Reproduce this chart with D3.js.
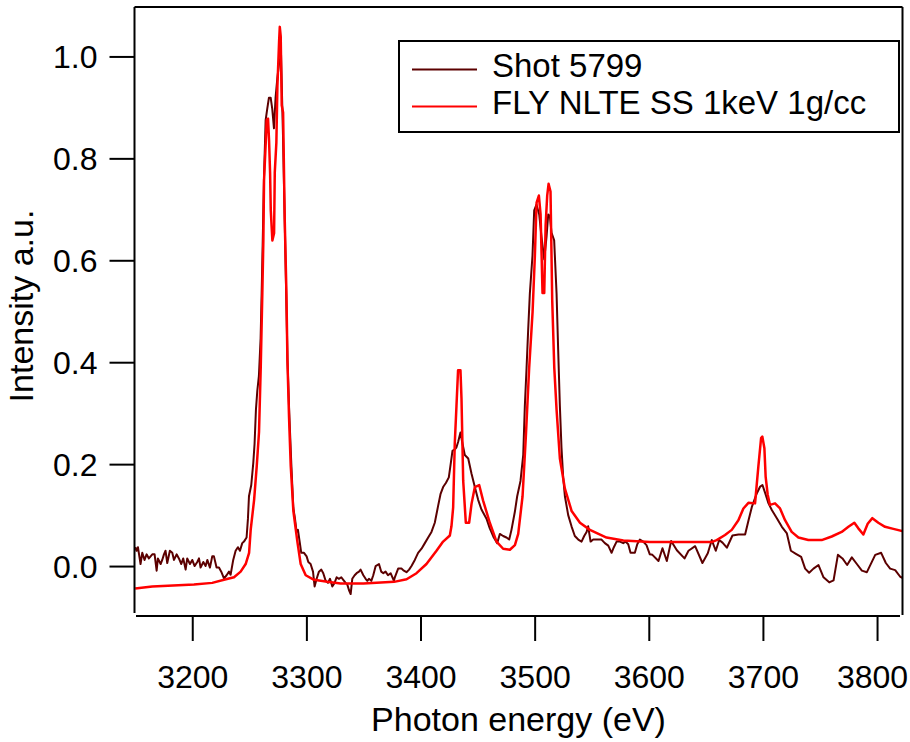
<!DOCTYPE html>
<html>
<head>
<meta charset="utf-8">
<script src="https://cdn.jsdelivr.net/npm/d3@7"></script>
<style>
  body { margin: 0; background: #fff; }
  svg { font-family: "Liberation Sans", Arial, sans-serif; }
  .axis-label { font-size: 34px; fill: #000; }
  .legend-label { font-size: 33px; fill: #000; }
</style>
</head>
<body>
<div id="chart"></div>
<script>
// Shot 5799 (measured spectrum)
const shotEnergy = [
  3150, 3151.2, 3152.4, 3154.7, 3156.2, 3158.2, 3160.0, 3162.0, 3165.0, 3167.0,
  3168.8, 3169.9, 3172.3, 3173.7, 3175.2, 3176.6, 3178.1, 3180.4, 3182.5, 3184.0,
  3186.3, 3188.3, 3190.4, 3192.1, 3194.2, 3195.6, 3198.0, 3200.0, 3202.1, 3204.4,
  3205.9, 3207.3, 3209.7, 3211.7, 3213.2, 3215.5, 3217.5, 3219.0, 3221.3, 3223.4,
  3225.4, 3227.8, 3230.1, 3232.2, 3233.6, 3235.9, 3238.0, 3240.0, 3241.8, 3243.8,
  3245.3, 3247.6, 3248.8, 3249.7, 3251.7, 3253.5, 3254.6, 3255.8, 3257.0, 3258.4,
  3259.9, 3260.8, 3261.7, 3262.8, 3264.3, 3265.7, 3267.2, 3268.7, 3270.1, 3271.6,
  3273.0, 3274.5, 3276.0, 3277.8, 3279.5, 3281.0, 3282.3, 3283.5, 3285.0, 3286.8,
  3288.5, 3290.0, 3291.4, 3292.6, 3294.1, 3295.5, 3297.9, 3300.2, 3301.7, 3303.7,
  3305.8, 3307.2, 3309.0, 3311.0, 3313.1, 3314.8, 3316.9, 3318.9, 3320.7, 3322.7,
  3324.7, 3326.5, 3328.5, 3330.6, 3332.3, 3334.4, 3335.8, 3337.3, 3338.8, 3340.2,
  3342.3, 3344.0, 3346.1, 3347.5, 3349.9, 3351.9, 3353.4, 3354.8, 3356.9, 3358.6,
  3360.7, 3363.6, 3365.6, 3367.4, 3369.4, 3371.5, 3373.8, 3376.7, 3377.5, 3380.4,
  3383.3, 3385.4, 3387.7, 3390.0, 3392.1, 3395.0, 3397.9, 3400.9, 3403.8, 3406.7,
  3409.6, 3412.5, 3415.5, 3417.5, 3419.8, 3422.2, 3424.8, 3426.6, 3428.0, 3430.1,
  3431.5, 3433.0, 3435.0, 3436.8, 3438.8, 3441.8, 3444.7, 3447.6, 3450.5, 3453.4,
  3457.8, 3460.7, 3464.2, 3467.2, 3469.5, 3472.4, 3475.3, 3477.7, 3479.7, 3482.7,
  3484.7, 3487.6, 3490.0, 3491.4, 3492.9, 3494.3, 3495.8, 3498.1, 3499.6, 3501.6,
  3504.0, 3506.0, 3508.4, 3510.4, 3511.9, 3513.3, 3514.8, 3517.1, 3519.2, 3520.6,
  3522.1, 3523.5, 3525.0, 3526.5, 3529.4, 3532.3, 3535.2, 3538.2, 3541.1, 3543.4,
  3545.5, 3546.9, 3549.0, 3551.3, 3554.2, 3558.6, 3561.5, 3564.5, 3567.4, 3569.4,
  3571.8, 3574.7, 3577.6, 3579.6, 3582.0, 3584.0, 3587.8, 3589.9, 3592.2, 3595.1,
  3598.0, 3600.9, 3603.2, 3608.5, 3612.0, 3615.8, 3619.6, 3624.6, 3631.3, 3634.8,
  3640.6, 3647.0, 3651.7, 3655.2, 3658.7, 3661.7, 3664.6, 3668.4, 3673.3, 3678.6,
  3684.4, 3687.4, 3690.3, 3694.7, 3697.6, 3699.6, 3702.0, 3704.9, 3707.8, 3712.2,
  3716.6, 3721.0, 3724.5, 3728.9, 3733.5, 3737.0, 3740.5, 3744.3, 3748.7, 3753.1,
  3758.1, 3761.9, 3765.7, 3769.7, 3773.8, 3777.9, 3782.3, 3786.7, 3791.1, 3798.4,
  3803.6, 3807.7, 3811.5, 3815.9, 3820.3, 3823.0
];
const shotIntensity = [
  0.037, 0.030, 0.037, 0.004, 0.026, 0.012, 0.023, 0.015, 0.023, 0.023,
  -0.009, 0.015, 0.004, 0.012, 0.023, 0.030, 0.006, 0.030, 0.026, 0.012,
  0.023, 0.015, 0.004, 0.015, -0.007, 0.015, 0.004, 0.012, 0.000, 0.008,
  0.015, -0.003, 0.008, 0.000, 0.012, -0.003, 0.019, 0.019, -0.003, -0.003,
  -0.011, -0.024, -0.018, -0.011, -0.017, 0.012, 0.030, 0.037, 0.030, 0.045,
  0.048, 0.056, 0.093, 0.137, 0.159, 0.203, 0.240, 0.307, 0.344, 0.373,
  0.447, 0.535, 0.631, 0.757, 0.875, 0.897, 0.919, 0.919, 0.897, 0.859,
  0.919, 0.956, 0.985, 1.003, 0.845, 0.680, 0.535, 0.400, 0.300, 0.200,
  0.115, 0.093, 0.067, 0.071, 0.048, 0.026, 0.026, 0.019, 0.008, 0.004,
  -0.011, -0.040, -0.025, -0.011, -0.007, -0.014, -0.029, -0.033, -0.025, -0.040,
  -0.033, -0.022, -0.025, -0.022, -0.027, -0.033, -0.036, -0.047, -0.055, -0.025,
  -0.018, -0.014, -0.011, -0.007, -0.018, -0.025, -0.029, -0.025, -0.029, -0.018,
  0.000, 0.004, -0.011, -0.014, -0.011, -0.018, -0.014, -0.029, -0.022, -0.005,
  -0.005, -0.009, -0.012, -0.007, 0.000, 0.012, 0.026, 0.034, 0.045, 0.056,
  0.067, 0.085, 0.119, 0.141, 0.155, 0.163, 0.174, 0.203, 0.226, 0.229,
  0.233, 0.244, 0.262, 0.240, 0.218, 0.211, 0.181, 0.155, 0.130, 0.111,
  0.093, 0.074, 0.056, 0.045, 0.063, 0.059, 0.056, 0.052, 0.071, 0.107,
  0.137, 0.167, 0.218, 0.314, 0.388, 0.462, 0.535, 0.609, 0.698, 0.709,
  0.690, 0.646, 0.602, 0.646, 0.690, 0.687, 0.654, 0.639, 0.535, 0.425,
  0.314, 0.233, 0.174, 0.137, 0.100, 0.078, 0.059, 0.052, 0.048, 0.059,
  0.067, 0.078, 0.048, 0.052, 0.052, 0.052, 0.045, 0.040, 0.026, 0.037,
  0.048, 0.048, 0.045, 0.048, 0.043, 0.026, 0.026, 0.043, 0.052, 0.048,
  0.041, 0.023, 0.022, 0.010, 0.035, 0.010, 0.049, 0.031, 0.015, 0.030,
  0.039, 0.006, 0.025, 0.051, 0.030, 0.051, 0.046, 0.036, 0.060, 0.062,
  0.062, 0.090, 0.116, 0.143, 0.156, 0.159, 0.143, 0.123, 0.110, 0.094,
  0.077, 0.064, 0.030, 0.024, 0.018, -0.005, -0.013, -0.005, 0.002, -0.022,
  -0.032, -0.028, 0.022, 0.015, 0.002, 0.017, 0.004, -0.009, -0.012, 0.022,
  0.026, 0.006, -0.005, -0.008, -0.021, -0.024
];

// FLY NLTE SS 1keV 1g/cc (simulated spectrum)
const flyEnergy = [
  3150, 3165, 3201.5, 3217.5, 3227.8, 3236.6, 3242.4, 3246.8, 3249.8, 3251.2,
  3254.2, 3256.5, 3258.5, 3260.0, 3261.4, 3262.3, 3262.9, 3264.4, 3265.2, 3266.4,
  3267.3, 3268.2, 3268.8, 3270.2, 3271.7, 3272.3, 3273.7, 3274.6, 3276.1, 3276.7,
  3277.5, 3278.4, 3279.6, 3281.0, 3282.5, 3283.4, 3284.8, 3286.3, 3288.6, 3292.1,
  3295.0, 3299.4, 3306.7, 3318.4, 3330.0, 3350.0, 3376.8, 3387.8, 3396.5, 3405.2,
  3414.0, 3419.8, 3425.7, 3427.1, 3428.6, 3430.0, 3431.5, 3432.9, 3435.0, 3435.9,
  3437.4, 3439.7, 3442.6, 3444.7, 3447.6, 3451.4, 3454.9, 3460.7, 3466.6, 3472.4,
  3478.3, 3482.7, 3485.6, 3489.4, 3492.3, 3495.2, 3498.2, 3500.2, 3501.7, 3503.7,
  3505.2, 3506.9, 3508.4, 3509.6, 3511.0, 3512.2, 3513.9, 3515.4, 3517.2, 3519.2,
  3522.1, 3526.5, 3532.4, 3539.7, 3548.4, 3563.0, 3577.7, 3601.0, 3655.1, 3659.5,
  3666.8, 3672.7, 3678.5, 3682.9, 3687.3, 3693.1, 3696.0, 3698.4, 3699.5, 3701.3,
  3702.4, 3704.2, 3706.2, 3710.6, 3715.0, 3719.4, 3725.2, 3731.1, 3739.8, 3751.5,
  3760.3, 3769.0, 3774.9, 3780.1, 3783.6, 3788.0, 3791.8, 3795.9, 3801.1, 3807.0,
  3814.3, 3823.0
];
const flyIntensity = [
  -0.044, -0.040, -0.036, -0.033, -0.027, -0.022, -0.011, 0.004, 0.026, 0.071,
  0.130, 0.196, 0.263, 0.389, 0.536, 0.639, 0.757, 0.831, 0.875, 0.878,
  0.835, 0.772, 0.698, 0.639, 0.653, 0.772, 0.831, 0.941, 1.030, 1.058,
  1.040, 0.904, 0.890, 0.683, 0.536, 0.403, 0.292, 0.196, 0.108, 0.048,
  0.004, -0.018, -0.027, -0.031, -0.034, -0.034, -0.031, -0.026, -0.014, 0.004,
  0.030, 0.048, 0.060, 0.078, 0.115, 0.240, 0.314, 0.384, 0.384, 0.329,
  0.167, 0.085, 0.085, 0.122, 0.155, 0.159, 0.128, 0.085, 0.048, 0.034,
  0.032, 0.041, 0.063, 0.137, 0.255, 0.389, 0.499, 0.609, 0.713, 0.727,
  0.690, 0.536, 0.536, 0.668, 0.727, 0.750, 0.735, 0.521, 0.389, 0.307,
  0.211, 0.152, 0.108, 0.085, 0.071, 0.056, 0.050, 0.047, 0.047, 0.051,
  0.061, 0.071, 0.090, 0.113, 0.124, 0.123, 0.195, 0.251, 0.254, 0.231,
  0.175, 0.140, 0.120, 0.123, 0.113, 0.090, 0.067, 0.056, 0.051, 0.051,
  0.058, 0.067, 0.077, 0.085, 0.074, 0.062, 0.083, 0.094, 0.085, 0.077,
  0.073, 0.068
];

const xTicks = [3200, 3300, 3400, 3500, 3600, 3700, 3800];
const yTicks = [0.0, 0.2, 0.4, 0.6, 0.8, 1.0];
const seriesNames = ["Shot 5799", "FLY NLTE SS 1keV 1g/cc"];
const seriesColors = ["#5c0000", "#ff0000"];

const width = 910, height = 742;
const plot = { left: 134.5, right: 902.5, top: 7, bottom: 616 };

const svg = d3.select("#chart").append("svg")
  .attr("width", width)
  .attr("height", height);

const x = d3.scaleLinear().domain([3149.4, 3822.3]).range([plot.left, plot.right]);
const y = d3.scaleLinear().domain([-0.098, 1.097]).range([plot.bottom, plot.top]);

svg.append("clipPath").attr("id", "plot-clip")
  .append("rect")
  .attr("x", plot.left).attr("y", plot.top)
  .attr("width", plot.right - plot.left)
  .attr("height", plot.bottom - plot.top);

// data lines (measured first, simulation drawn on top)
const line = d3.line().x(d => x(d[0])).y(d => y(d[1]));
const shotData = shotEnergy.map((e, i) => [e, shotIntensity[i]]);
const flyData = flyEnergy.map((e, i) => [e, flyIntensity[i]]);

const lines = svg.append("g").attr("clip-path", "url(#plot-clip)");
lines.append("path").datum(shotData)
  .attr("fill", "none").attr("stroke", seriesColors[0])
  .attr("stroke-width", 2).attr("stroke-linejoin", "round")
  .attr("d", line);
lines.append("path").datum(flyData)
  .attr("fill", "none").attr("stroke", seriesColors[1])
  .attr("stroke-width", 2.5).attr("stroke-linejoin", "round")
  .attr("d", line);

// frame: left/bottom axes plus mirror lines on top/right
const frame = svg.append("g").attr("stroke", "#000").attr("stroke-width", 2);
frame.append("line").attr("x1", plot.left).attr("x2", plot.left).attr("y1", plot.top).attr("y2", plot.bottom - 3);
frame.append("line").attr("x1", plot.left + 1.5).attr("x2", plot.right - 2.5).attr("y1", plot.bottom).attr("y2", plot.bottom);
frame.append("line").attr("x1", plot.right).attr("x2", plot.right).attr("y1", plot.top).attr("y2", plot.bottom - 1);
frame.append("line").attr("x1", plot.left).attr("x2", plot.right).attr("y1", plot.top).attr("y2", plot.top);

// axes
const xAxis = svg.append("g")
  .attr("transform", `translate(0,${plot.bottom})`)
  .call(d3.axisBottom(x).tickValues(xTicks).tickSize(25).tickPadding(47).tickFormat(d3.format("d")));
const yAxis = svg.append("g")
  .attr("transform", `translate(${plot.left},0)`)
  .call(d3.axisLeft(y).tickValues(yTicks).tickSize(25).tickPadding(12).tickFormat(d3.format(".1f")));

[xAxis, yAxis].forEach(ax => {
  ax.select(".domain").remove();
  ax.selectAll(".tick line").attr("stroke", "#000").attr("stroke-width", 2);
  ax.selectAll(".tick text")
    .attr("font-family", "Liberation Sans, Arial, sans-serif")
    .attr("font-size", 32).attr("fill", "#000");
});
xAxis.selectAll(".tick text").attr("dy", 0);
yAxis.selectAll(".tick text").attr("dy", "0.36em");
// last label is pulled in so it stays inside the picture
xAxis.selectAll(".tick text").filter(d => d === 3800).attr("dx", -5);

// axis titles
svg.append("text")
  .attr("class", "axis-label")
  .attr("text-anchor", "middle")
  .attr("x", (plot.left + plot.right) / 2)
  .attr("y", 731)
  .text("Photon energy (eV)");

svg.append("text")
  .attr("class", "axis-label")
  .attr("text-anchor", "middle")
  .attr("transform", "rotate(-90)")
  .attr("x", -306)
  .attr("y", 33)
  .text("Intensity a.u.");

// legend
const legend = svg.append("g");
legend.append("rect")
  .attr("x", 399).attr("y", 41)
  .attr("width", 500).attr("height", 91)
  .attr("fill", "#fff").attr("stroke", "#000").attr("stroke-width", 2);

seriesNames.forEach((name, i) => {
  const rowY = 69.5 + i * 37;
  legend.append("line")
    .attr("x1", 412).attr("x2", 477)
    .attr("y1", rowY).attr("y2", rowY)
    .attr("stroke", seriesColors[i]).attr("stroke-width", 2);
  legend.append("text")
    .attr("class", "legend-label")
    .attr("x", 492).attr("y", rowY + 7.5)
    .text(name);
});
</script>
</body>
</html>
